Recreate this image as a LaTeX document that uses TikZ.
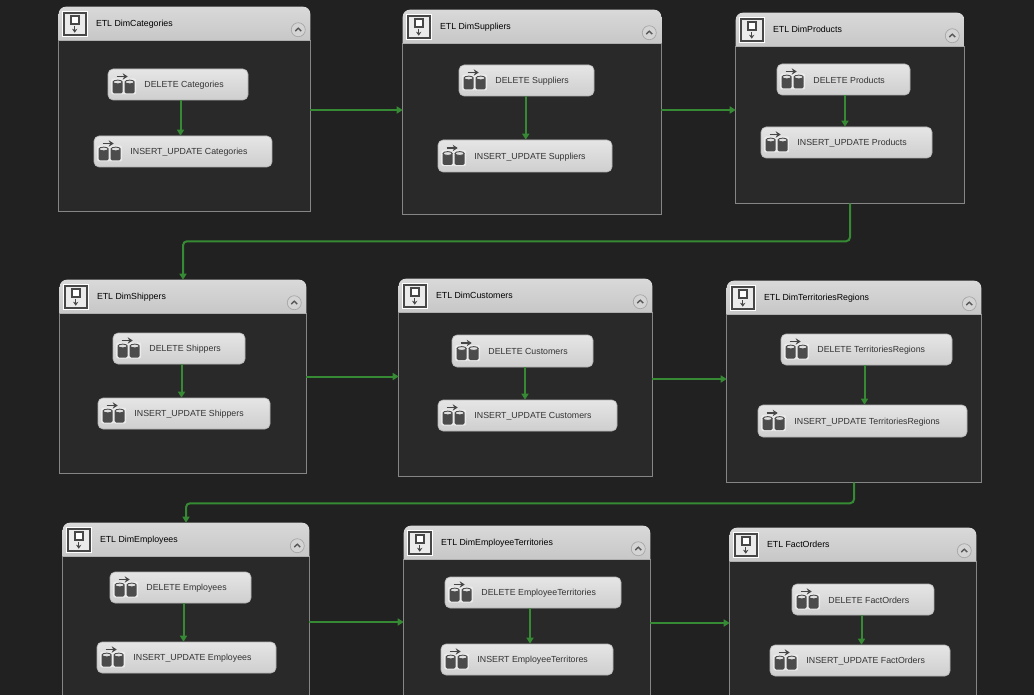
\documentclass[tikz,border=0pt]{standalone}
\usepackage{fontspec}
\setmainfont{Liberation Sans}
\usetikzlibrary{arrows.meta,calc}
\definecolor{canvas}{HTML}{212121}
\definecolor{panel}{HTML}{292929}
\definecolor{flowgreen}{HTML}{358A33}
\newdimen\px
\px=0.75pt
\tikzset{
  body/.style={fill=panel,draw=black!48,line width=1.3\px},
  header/.style={top color=black!15,bottom color=black!22,draw=none},
  title/.style={anchor=west,inner sep=0pt,font=\fontsize{6.6pt}{8pt}\selectfont,text=black},
  task/.style={rounded corners=5\px,top color=black!10,bottom color=black!19,draw=black!30,
    line width=.6\px,inner sep=0pt},
  tasktext/.style={anchor=west,inner sep=0pt,font=\fontsize{6.6pt}{8pt}\selectfont,text=black!80},
  flow/.style={draw=flowgreen,line width=2\px,-{Triangle[length=4.5pt,width=5.25pt]}},
  pics/dbicon/.style={code={
    \foreach \dx in {10,22}{
      \fill[white!92!black,rounded corners=2\px] (\dx-6.5,-6) rectangle (\dx+6.5,10);
      \fill[black!70,rounded corners=1.5\px] (\dx-5,-3) rectangle (\dx+5,9);
      \filldraw[fill=black!12,draw=black!70,line width=.9\px] (\dx,-2.5) ellipse (4.6 and 1.9);
    }
    \draw[black!72,line width=1.6\px,-{Stealth[length=3.75pt,width=4.8pt]}] (9,-8) -- (20,-8);
  }},
  pics/etlicon/.style={code={
    \fill[white] (0,0) rectangle (26,26);
    \draw[black!72,line width=2\px,fill=black!8] (2,2) rectangle (24,24);
    \draw[black!72,line width=1.6\px,fill=white] (9,5.5) rectangle (17,13);
    \draw[black!72,line width=1.4\px,-{Stealth[length=3pt,width=4pt]}] (13,15.5) -- (13,22);
  }},
  pics/collapse/.style={code={
    \draw[black!35,fill=black!17,line width=.7\px] (0,0) circle (7);
    \draw[black!65,line width=1.4\px] (-3,1.3) -- (0,-1.5) -- (3,1.3);
  }}
}
\begin{document}
\begin{tikzpicture}[x=0.75pt,y=-0.75pt]
  \useasboundingbox (0,0) rectangle (1034,695);
  \clip (0,0) rectangle (1034,695);
  \fill[canvas] (0,0) rectangle (1034,695);
  % containers
  \node[minimum width=251\px,minimum height=204\px,inner sep=0pt] (c1) at (184.5,109) {};
  \node[minimum width=258\px,minimum height=204\px,inner sep=0pt] (c2) at (532,112) {};
  \node[minimum width=228\px,minimum height=190\px,inner sep=0pt] (c3) at (850,108) {};
  \node[minimum width=246\px,minimum height=193\px,inner sep=0pt] (c4) at (183,376.5) {};
  \node[minimum width=253\px,minimum height=197\px,inner sep=0pt] (c5) at (525.5,377.5) {};
  \node[minimum width=254\px,minimum height=201\px,inner sep=0pt] (c6) at (854,381.5) {};
  \node[minimum width=246\px,minimum height=198\px,inner sep=0pt] (c7) at (186,622) {};
  \node[minimum width=246\px,minimum height=194\px,inner sep=0pt] (c8) at (527,623) {};
  \node[minimum width=246\px,minimum height=190\px,inner sep=0pt] (c9) at (853,623) {};
  \foreach \c/\name in {c1/ETL DimCategories,c2/ETL DimSuppliers,c3/ETL DimProducts,
      c4/ETL DimShippers,c5/ETL DimCustomers,c6/ETL DimTerritoriesRegions,
      c7/ETL DimEmployees,c8/ETL DimEmployeeTerritories,c9/ETL FactOrders}{
    \path[body] ([yshift=-34\px]\c.north west) -- (\c.south west) -- (\c.south east)
      -- ([yshift=-34\px]\c.north east) -- cycle;
    \path[header] ([yshift=-34\px]\c.north west) [rounded corners=7\px] -- (\c.north west)
      -- (\c.north east) [sharp corners] -- ([yshift=-34\px]\c.north east) -- cycle;
    \pic at ([xshift=3\px,yshift=-4\px]\c.north west) {etlicon};
    \pic at ([xshift=-12\px,yshift=-23\px]\c.north east) {collapse};
    \node[title] (\c t) at ([xshift=37\px,yshift=-17\px]\c.north west) {\name};
  }
  % tasks
  \node[task,minimum width=140\px,minimum height=31\px] (d1) at (178,84.5) {};
  \node[task,minimum width=178\px,minimum height=31\px] (i1) at (183,151.5) {};
  \node[task,minimum width=135\px,minimum height=31\px] (d2) at (526.5,80.5) {};
  \node[task,minimum width=174\px,minimum height=32\px] (i2) at (525,156) {};
  \node[task,minimum width=133\px,minimum height=31\px] (d3) at (843.5,79.5) {};
  \node[task,minimum width=171\px,minimum height=31\px] (i3) at (846.5,142.5) {};
  \node[task,minimum width=132\px,minimum height=31\px] (d4) at (179,348.5) {};
  \node[task,minimum width=172\px,minimum height=31\px] (i4) at (184,413.5) {};
  \node[task,minimum width=141\px,minimum height=32\px] (d5) at (522.5,351) {};
  \node[task,minimum width=179\px,minimum height=31\px] (i5) at (527.5,415.5) {};
  \node[task,minimum width=171\px,minimum height=31\px] (d6) at (866.5,349.5) {};
  \node[task,minimum width=209\px,minimum height=32\px] (i6) at (862.5,421) {};
  \node[task,minimum width=141\px,minimum height=31\px] (d7) at (180.5,587.5) {};
  \node[task,minimum width=179\px,minimum height=31\px] (i7) at (186.5,657.5) {};
  \node[task,minimum width=176\px,minimum height=31\px] (d8) at (533,592.5) {};
  \node[task,minimum width=172\px,minimum height=31\px] (i8) at (527,659.5) {};
  \node[task,minimum width=142\px,minimum height=31\px] (d9) at (863,599.5) {};
  \node[task,minimum width=180\px,minimum height=31\px] (i9) at (860,660.5) {};
  \foreach \t/\name in {d1/DELETE Categories,i1/INSERT\_UPDATE Categories,
      d2/DELETE Suppliers,i2/INSERT\_UPDATE Suppliers,
      d3/DELETE Products,i3/INSERT\_UPDATE Products,
      d4/DELETE Shippers,i4/INSERT\_UPDATE Shippers,
      d5/DELETE Customers,i5/INSERT\_UPDATE Customers,
      d6/DELETE TerritoriesRegions,i6/INSERT\_UPDATE TerritoriesRegions,
      d7/DELETE Employees,i7/INSERT\_UPDATE Employees,
      d8/DELETE EmployeeTerritories,i8/INSERT EmployeeTerritores,
      d9/DELETE FactOrders,i9/INSERT\_UPDATE FactOrders}{
    \pic at (\t.west) {dbicon};
    \node[tasktext] (\t t) at ([xshift=36.5\px,yshift=-.8\px]\t.west) {\name};
  }
  % connectors
  \foreach \n in {1,...,9}{
    \coordinate (m\n) at ($(d\n)!.5!(i\n)$);
    \draw[flow] (d\n.south -| m\n) -- (i\n.north -| m\n);
  }
  \coordinate (r1) at ([yshift=-1\px]c1.east);
  \coordinate (r2) at ([yshift=-1.5\px]c5.east);
  \draw[flow] (r1) -- (r1 -| c2.west);
  \draw[flow] (c2.east |- r1) -- (r1 -| c3.west);
  \draw[flow] (c4.east) -- (c4.east -| c5.west);
  \draw[flow] (r2) -- (r2 -| c6.west);
  \draw[flow] (c7.east) -- (c7.east -| c8.west);
  \draw[flow] (c8.east) -- (c8.east -| c9.west);
  \draw[flow,rounded corners=4\px] (c3.south) -- ++(0,38) -| (c4.north);
  \draw[flow,rounded corners=4\px] (c6.south) -- ++(0,21) -| (c7.north);
\end{tikzpicture}
\end{document}
